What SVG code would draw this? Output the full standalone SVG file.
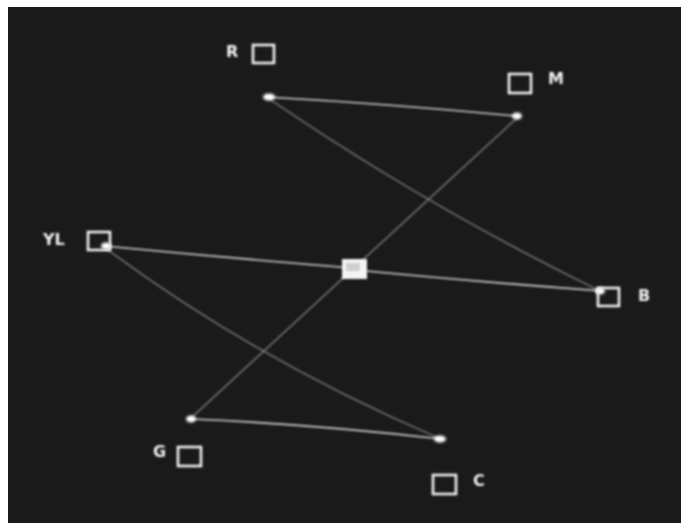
<svg xmlns="http://www.w3.org/2000/svg" width="682" height="523" viewBox="0 0 682 523">
<defs>
<filter id="glow" x="-20%" y="-20%" width="140%" height="140%"><feGaussianBlur stdDeviation="0.8"/></filter>
<filter id="soft" x="-50%" y="-50%" width="200%" height="200%"><feGaussianBlur stdDeviation="1.6"/></filter>
</defs>
<style>
.box{fill:none;stroke:#f2f2f2;stroke-width:2.6}
.lbl{fill:#f2f2f2;font-family:"DejaVu Sans",sans-serif;font-weight:bold;font-size:16px}
.diag{fill:none;stroke:#858585;stroke-width:1.3}
.hz{fill:none;stroke:#cfcfcf;stroke-width:1.6}
.dot{fill:#ffffff}
</style>
<rect x="0" y="0" width="682" height="523" fill="#ffffff"/>
<rect x="8" y="7" width="673" height="516" fill="#1a1a1a"/>
<g id="connectors" filter="url(#glow)">
<path class="hz" d="M266,97 Q390,104 516,116"/>
<path class="diag" d="M268,98 Q426,206 600,291"/>
<path class="diag" d="M518,117 L190,419"/>
<path class="hz" d="M104,246 Q230,258 352,268"/>
<path class="hz" d="M366,271 Q480,282 602,291"/>
<path class="diag" d="M104,247 Q257,361 441,439"/>
<path class="hz" d="M190,419 Q310,424 441,439"/>
</g>
<g id="endpoints" filter="url(#soft)">
<ellipse class="dot" cx="269" cy="97" rx="6" ry="3.5"/>
<ellipse class="dot" cx="517" cy="116" rx="5" ry="3.5"/>
<ellipse class="dot" cx="191" cy="419" rx="5" ry="3.5"/>
<ellipse class="dot" cx="440" cy="439" rx="6" ry="3.5"/>
<ellipse class="dot" cx="600" cy="291" rx="5" ry="3.5"/>
<ellipse class="dot" cx="106" cy="246" rx="5" ry="3.5"/>
</g>
<g id="node-R" filter="url(#glow)">
<rect class="box" x="253" y="45" width="21" height="18"/>
<text class="lbl" x="226" y="57">R</text>
</g>
<g id="node-M" filter="url(#glow)">
<rect class="box" x="509" y="74" width="22" height="19"/>
<text class="lbl" x="548" y="84">M</text>
</g>
<g id="node-YL" filter="url(#glow)">
<rect class="box" x="88" y="232" width="22" height="18"/>
<text class="lbl" x="43" y="245">YL</text>
</g>
<g id="node-center" filter="url(#glow)">
<rect x="342" y="259" width="25" height="20" fill="#f4f4f4"/>
<rect x="346" y="263" width="14" height="8" fill="#cfcfcf"/>
</g>
<g id="node-B" filter="url(#glow)">
<rect class="box" x="598" y="288" width="21" height="18"/>
<text class="lbl" x="638" y="301">B</text>
</g>
<g id="node-G" filter="url(#glow)">
<rect class="box" x="178" y="447" width="23" height="19"/>
<text class="lbl" x="153" y="457">G</text>
</g>
<g id="node-C" filter="url(#glow)">
<rect class="box" x="433" y="475" width="23" height="19"/>
<text class="lbl" x="473" y="486">C</text>
</g>
</svg>
